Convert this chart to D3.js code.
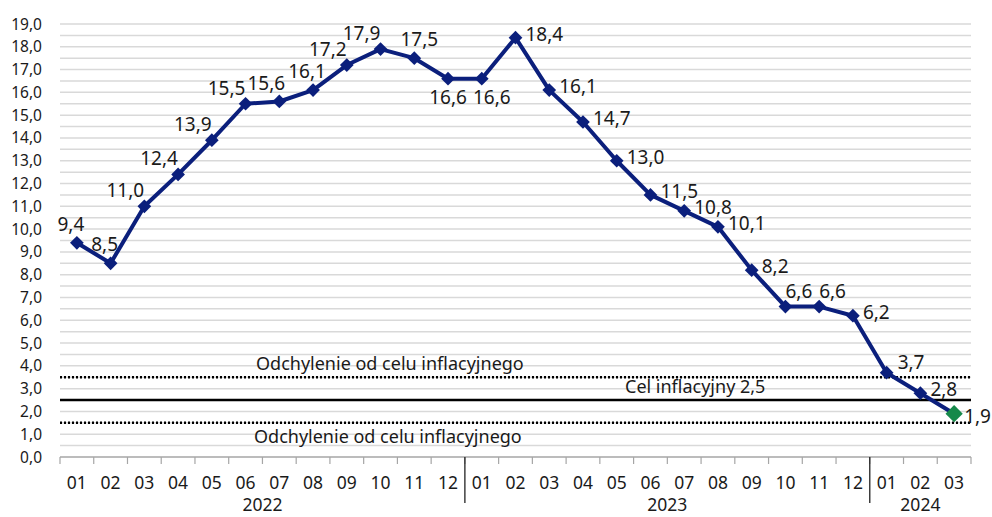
<!DOCTYPE html>
<html>
<head>
<meta charset="utf-8">
<script src="https://cdn.jsdelivr.net/npm/d3@7"></script>
<style>
  body { margin: 0; background: #fff; }
  text { font-family: "Noto Sans", sans-serif; fill: #1a1a1a; }
</style>
</head>
<body>
<svg id="chart" width="992" height="517"></svg>
<script>
// months on the x axis, grouped by year
var months = ["01","02","03","04","05","06","07","08","09","10","11","12",
              "01","02","03","04","05","06","07","08","09","10","11","12",
              "01","02","03"];
var years = [
    { label: "2022", start: 0, end: 12 },
    { label: "2023", start: 12, end: 24 },
    { label: "2024", start: 24, end: 27 }
];

// CPI y/y, %
var cpi = [9.4, 8.5, 11.0, 12.4, 13.9, 15.5, 15.6, 16.1, 17.2, 17.9, 17.5, 16.6,
           16.6, 18.4, 16.1, 14.7, 13.0, 11.5, 10.8, 10.1, 8.2, 6.6, 6.6, 6.2,
           3.7, 2.8, 1.9];

// where each value label sits relative to its point
var labelPos = ["T","T","TL","TL","TL","TL","TM","T","TL","TL","TA","B",
                "BR","R","R","R","R","R","R","R","R","TR","TR","R",
                "RT","R","RB"];

// inflation target and tolerance band
var target = 2.5;
var bandLow = 1.5, bandHigh = 3.5;
var targetLabel = "Cel inflacyjny 2,5";
var bandLabel = "Odchylenie od celu inflacyjnego";

var yTicks = d3.range(0, 19.5, 1);
var gridLines = d3.range(0.5, 19.5, 0.5);

var W = 992, H = 517;
var margin = { top: 24, right: 21, bottom: 60, left: 60 };
var NAVY = "#0b1f7c", GREEN = "#16894a";

var svg = d3.select("#chart");
var x = d3.scaleBand()
    .domain(d3.range(cpi.length))
    .range([margin.left, W - margin.right]);
var y = d3.scaleLinear()
    .domain([0, 19])
    .range([H - margin.bottom, margin.top]);

var fmt = function(v) { return d3.format(".1f")(v).replace(".", ","); };

// gridlines every 0.5
svg.append("g").selectAll("line")
    .data(gridLines)
    .enter()
    .append("line")
    .attr("x1", margin.left)
    .attr("x2", W - margin.right)
    .attr("y1", function(d) { return y(d); })
    .attr("y2", function(d) { return y(d); })
    .attr("stroke", "#d9d9d9")
    .attr("stroke-width", 1.5);

// y axis labels
svg.append("g").selectAll("text")
    .data(yTicks)
    .enter()
    .append("text")
    .attr("x", 42)
    .attr("y", function(d) { return y(d) + 5.5; })
    .attr("text-anchor", "end")
    .attr("font-size", 15.5)
    .text(fmt);

// x axis: baseline, ticks at band edges, month labels
var xAxis = svg.append("g");
xAxis.append("line")
    .attr("x1", margin.left).attr("x2", W - margin.right)
    .attr("y1", y(0)).attr("y2", y(0))
    .attr("stroke", "#a6a6a6").attr("stroke-width", 1.5);

var edges = d3.range(cpi.length + 1);
xAxis.selectAll(".tick")
    .data(edges)
    .enter()
    .append("line")
    .attr("class", "tick")
    .attr("x1", function(i) { return margin.left + i * x.step(); })
    .attr("x2", function(i) { return margin.left + i * x.step(); })
    .attr("y1", y(0))
    .attr("y2", y(0) + 7)
    .attr("stroke", "#a6a6a6")
    .attr("stroke-width", 1.2);

// longer separators between years
xAxis.selectAll(".sep")
    .data(years.slice(1))
    .enter()
    .append("line")
    .attr("class", "sep")
    .attr("x1", function(d) { return x(d.start); })
    .attr("x2", function(d) { return x(d.start); })
    .attr("y1", y(0))
    .attr("y2", y(0) + 46)
    .attr("stroke", "#222")
    .attr("stroke-width", 1.3);

xAxis.selectAll(".month")
    .data(months)
    .enter()
    .append("text")
    .attr("class", "month")
    .attr("x", function(_, i) { return x(i) + x.bandwidth() / 2; })
    .attr("y", y(0) + 32)
    .attr("text-anchor", "middle")
    .attr("font-size", 17.5)
    .text(function(d) { return d; });

xAxis.selectAll(".year")
    .data(years)
    .enter()
    .append("text")
    .attr("class", "year")
    .attr("x", function(d) { return (x(d.start) + x(d.end - 1) + x.bandwidth()) / 2; })
    .attr("y", y(0) + 54)
    .attr("text-anchor", "middle")
    .attr("font-size", 17.5)
    .text(function(d) { return d.label; });

// target line and tolerance band
svg.append("line")
    .attr("x1", margin.left).attr("x2", W - margin.right)
    .attr("y1", y(target)).attr("y2", y(target))
    .attr("stroke", "#000").attr("stroke-width", 2.5);
svg.append("g").selectAll("line")
    .data([bandLow, bandHigh])
    .enter()
    .append("line")
    .attr("x1", margin.left).attr("x2", W - margin.right)
    .attr("y1", function(d) { return y(d); })
    .attr("y2", function(d) { return y(d); })
    .attr("stroke", "#000")
    .attr("stroke-width", 2.4)
    .attr("stroke-dasharray", "2,2");

svg.append("text")
    .attr("x", 256).attr("y", y(bandHigh) - 7)
    .attr("font-size", 18)
    .text(bandLabel);
svg.append("text")
    .attr("x", 254).attr("y", y(bandLow) + 20)
    .attr("font-size", 18)
    .text(bandLabel);
svg.append("text")
    .attr("x", 625).attr("y", y(target) - 7)
    .attr("font-size", 18)
    .text(targetLabel);

// the CPI line
var cx = function(i) { return x(i) + x.bandwidth() / 2; };
svg.append("path")
    .datum(cpi)
    .attr("fill", "none")
    .attr("stroke", NAVY)
    .attr("stroke-width", 4)
    .attr("stroke-linejoin", "round")
    .attr("d", d3.line()
        .x(function(_, i) { return cx(i); })
        .y(function(d) { return y(d); }));

// diamond markers, last one green
svg.append("g").selectAll("path")
    .data(cpi)
    .enter()
    .append("path")
    .attr("d", d3.symbol().type(d3.symbolDiamond2).size(function(_, i) { return i === cpi.length - 1 ? 190 : 120; }))
    .attr("transform", function(d, i) { return "translate(" + cx(i) + "," + y(d) + ")"; })
    .attr("fill", function(_, i) { return i === cpi.length - 1 ? GREEN : NAVY; });

// value labels
var offsets = {
    T:  { dx: -6,  dy: -12, anchor: "middle" },
    TA: { dx: 5,   dy: -12, anchor: "middle" },
    TM: { dx: -13, dy: -11, anchor: "middle" },
    TL: { dx: -19, dy: -9,  anchor: "middle" },
    B:  { dx: 0,   dy: 25,  anchor: "middle" },
    BR: { dx: 10,  dy: 25,  anchor: "middle" },
    R:  { dx: 10,  dy: 3,   anchor: "start" },
    RT: { dx: 11,  dy: -4,  anchor: "start" },
    RB: { dx: 10,  dy: 9,   anchor: "start" },
    TR: { dx: 0,   dy: -9,  anchor: "start" }
};
svg.append("g").selectAll("text")
    .data(cpi)
    .enter()
    .append("text")
    .attr("x", function(d, i) { return cx(i) + offsets[labelPos[i]].dx; })
    .attr("y", function(d, i) { return y(d) + offsets[labelPos[i]].dy; })
    .attr("text-anchor", function(d, i) { return offsets[labelPos[i]].anchor; })
    .attr("font-size", 19)
    .text(fmt);
</script>
</body>
</html>
